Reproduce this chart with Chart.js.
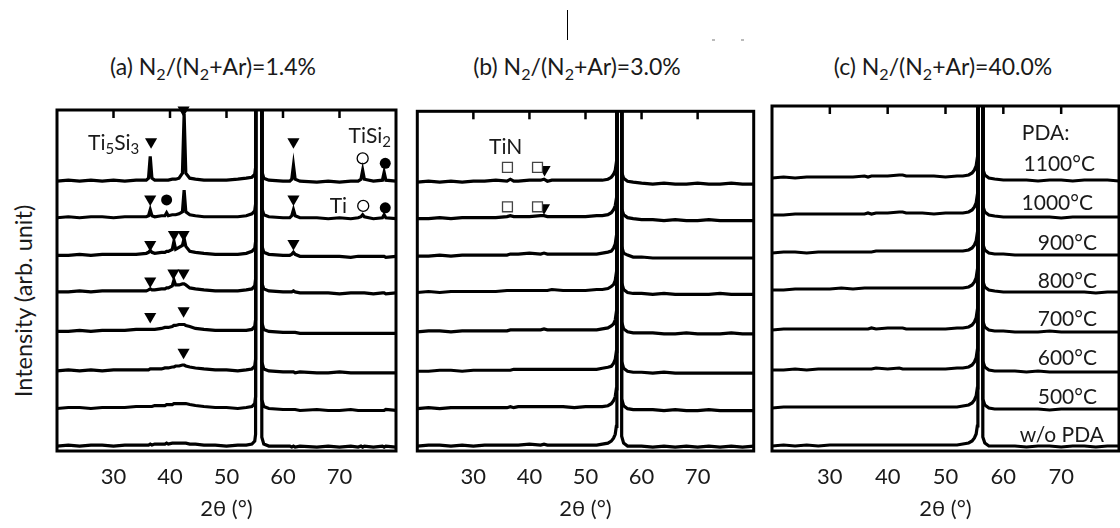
<!DOCTYPE html>
<html>
<head>
<meta charset="utf-8">
<script src="https://cdn.jsdelivr.net/npm/chart.js@4.4.1/dist/chart.umd.min.js"></script>
<style>
  body { margin: 0; background: #fff; width: 1120px; height: 528px; position: relative; overflow: hidden; font-family: Lato, "Noto Sans", sans-serif; color: #1a1a1a; }
  .panel { position: absolute; top: 103px; }
  .ttl { position: absolute; top: 51px; width: 320px; text-align: center; font-size: 23px; line-height: 30px; white-space: nowrap; }
  .ttl sub { font-size: 70%; vertical-align: -0.3em; line-height: 0; }
  #ylab { position: absolute; left: 23px; top: 301px; transform: translate(-50%, -50%) rotate(-90deg); font-size: 23.5px; white-space: nowrap; }
  #mark { position: absolute; left: 567px; top: 10px; width: 1px; height: 30px; background: #000; }
  .dot { position: absolute; top: 39px; width: 3px; height: 2px; background: #bbb; }
</style>
</head>
<body>
<div id="mark"></div>
<div class="dot" style="left:712px"></div>
<div class="dot" style="left:741px"></div>
<div class="ttl" style="left:53px">(a) N<sub>2</sub>/(N<sub>2</sub>+Ar)=1.4%</div>
<div class="ttl" style="left:417px">(b) N<sub>2</sub>/(N<sub>2</sub>+Ar)=3.0%</div>
<div class="ttl" style="left:783px">(c) N<sub>2</sub>/(N<sub>2</sub>+Ar)=40.0%</div>
<div id="ylab">Intensity (arb. unit)</div>
<div class="panel" style="left:50px"><canvas id="pa" width="353" height="430"></canvas></div>
<div class="panel" style="left:409px"><canvas id="pb" width="353" height="430"></canvas></div>
<div class="panel" style="left:769px"><canvas id="pc" width="353" height="430"></canvas></div>
<script>
// 2θ 刻度
const xTicks = [30, 40, 50, 60, 70];
// 各曲線的垂直偏移 (由下而上: w/o PDA, 500 ... 1100°C)
const offsets = [5, 43, 81, 121, 161, 198, 236, 273];

// (a) 1.4%
const thetaA = [20,22,24,26,28,30,32,34,35.8,36.2,36.5,36.8,37.3,38.5,39.1,39.4,39.7,40.4,40.7,41.0,41.6,42.2,42.5,42.8,43.5,44.5,46,48,50,52,53.5,54.5,55,55.15,55.25,56.1,56.25,56.6,57.5,60,61.2,61.55,61.85,62.15,63,66,68,70,72,73.3,73.8,74.1,74.4,76,77.6,77.9,78.2,80];
const a1100 = [0,1,0,1,0,1,0,1, 1,3,25,3,1,1, 1,1,1, 2,2,2,3, 8,68,8,3,2, 1,1,1,2,3,4, 7,14,5000,5000,10,3, 1,0, 0,2,16,2,0, -1,0,-1,0, 0,2,11,2,0, 1,9,1,0];
const a1000 = [0,1,0,1,1,0,1,1, 1,2,8,2,1,2, 2,5,2, 3,3,3,4, 6,28,6,3,2, 1,1,1,1,2,4, 7,14,5000,5000,10,3, 1,0, 0,2,8,2,0, 0,-1,0,-1, 0,1,3,1,-1, 0,3,0,-1];
const a900  = [0,0,1,0,1,1,1,1, 2,3,5,3,2,3, 3,4,4, 6,14,6,8, 10,17,9,4,3, 2,1,1,1,2,4, 7,14,5000,5000,10,3, 1,0, 0,1,3,1,-1, -1,-1,-1,-2, -1,-1,-1,-1,-1, -1,-1,-2,-1];
const a800  = [0,0,1,0,1,1,1,1, 1,2,3,2,2,3, 3,4,4, 6,12,7,7, 8,8,7,4,3, 2,1,1,1,2,3, 6,13,5000,5000,9,3, 1,0, 0,0,1,0,-1, -1,-1,-2,-1, -1,-1,-1,-1,-2, -1,-1,-2,-1];
const a700  = [0,0,1,0,1,1,1,2, 2,2,2,2,2,3, 4,4,4, 5,6,6,7, 7,7,6,5,3, 2,1,1,1,1,2, 5,12,5000,5000,9,2, 0,-1, -1,-1,-1,-1,-2, -2,-2,-2,-2, -2,-2,-2,-2,-2, -2,-2,-2,-2];
const a600  = [0,1,0,1,0,1,1,1, 1,1,2,2,2,2, 3,3,3, 4,4,5,5, 6,6,5,4,3, 2,1,1,0,1,2, 5,12,5000,5000,9,2, 0,-1, -1,-1,-1,-2,-1, -2,-2,-1,-2, -2,-2,-2,-2,-2, -2,-2,-2,-2];
const a500  = [0,1,1,0,1,1,1,2, 2,2,2,2,3,3, 3,4,4, 4,5,5,5, 5,5,5,4,3, 2,1,1,0,1,2, 5,12,5000,5000,9,2, 0,-1, -1,-1,-1,-1,-2, -1,-2,-2,-1, -2,-2,-2,-2,-2, -2,-2,-1,-2];
const aWo   = [0,1,0,1,1,0,1,1, 1,1,2,1,2,2, 2,3,2, 3,3,3,3, 3,3,3,2,2, 1,1,0,1,1,2, 5,12,5000,5000,9,2, 0,0, 0,-1,0,-1,0, -1,0,-1,0, -1,0,-1,0,-1, 0,-1,0,-1];

// (b) 3.0% 與 (c) 40.0% 共用 2θ 取樣點
const thetaB = [20,22,24,26,28,30,32,34,36,36.6,37.2,38,40,42,42.6,43.2,44,46,48,50,52,53,54,54.6,55,55.3,55.5,55.6,56.35,56.45,56.8,57.5,58.5,60,62,64,66,68,70,72,74,76,78,80];
const b1100 = [0,1,0,1,0,1,1,2, 1,3,1, 1,2,2, 3,1,2, 2,2,2,2, 2,3,5,8,12,20,5000, 5000,10,4,1,0, -1,-2,-1,-2,-2,-1,-2,-2,-1,-2,-2];
const b1000 = [0,0,1,0,1,1,1,1, 2,3,2, 2,2,3, 3,2,2, 2,2,2,3, 3,4,6,9,13,20,5000, 5000,10,4,1,0, -1,-1,-2,-1,-2,-2,-1,-2,-2,-2,-2];
const b900  = [0,0,1,0,1,1,1,1, 1,2,2, 2,3,2, 3,2,2, 2,2,2,2, 3,4,5,8,12,20,5000, 5000,10,3,1,-1, -1,-2,-2,-2,-2,-2,-2,-2,-2,-2,-2];
const b800  = [0,1,0,1,1,1,1,1, 2,2,2, 2,2,2, 2,2,3, 2,2,2,3, 3,4,6,8,12,20,5000, 5000,10,3,0,-1, -1,-2,-1,-2,-2,-2,-2,-1,-2,-2,-2];
const b700  = [0,1,1,0,1,1,1,1, 1,2,2, 2,2,2, 3,2,2, 2,2,2,2, 3,4,6,8,12,20,5000, 5000,10,3,0,-1, -1,-1,-2,-2,-1,-2,-2,-2,-1,-2,-2];
const b600  = [0,0,1,1,0,1,1,1, 1,1,2, 2,2,2, 2,2,2, 2,2,2,2, 3,4,5,8,12,20,5000, 5000,10,3,0,-1, -1,-2,-1,-2,-2,-2,-2,-2,-2,-2,-2];
const b500  = [0,1,0,1,1,1,1,1, 1,2,1, 2,2,2, 2,2,2, 2,1,2,2, 2,3,5,8,12,20,5000, 5000,10,3,0,-1, -1,-1,-2,-1,-2,-2,-1,-2,-2,-2,-2];
const bWo   = [0,1,1,0,1,0,1,1, 1,1,1, 1,2,1, 2,1,1, 1,1,1,1, 2,3,5,8,12,20,5000, 5000,10,3,0,0, 0,-1,0,-1,0,-1,0,-1,0,-1,0];

const c1100 = [0,1,0,1,1,1,1,1, 2,1,2, 2,2,3, 3,2,2, 2,2,1,2, 2,3,5,8,12,20,5000, 5000,9,3,0,-1, -2,-2,-2,-3,-2,-2,-3,-2,-2,-2,-3];
const c1000 = [0,0,1,1,1,1,1,1, 1,2,1, 2,2,3, 3,2,2, 2,1,2,2, 2,3,5,8,12,20,5000, 5000,9,3,0,-1, -2,-2,-2,-2,-2,-3,-2,-2,-2,-2,-2];
const c900  = [0,1,1,0,1,1,1,1, 1,1,1, 2,2,2, 2,2,2, 2,2,2,2, 2,3,5,8,12,20,5000, 5000,9,3,0,-1, -1,-2,-2,-2,-2,-2,-2,-2,-2,-2,-2];
const c800  = [0,0,1,1,1,1,2,1, 2,2,2, 2,2,2, 2,2,2, 2,2,2,2, 2,3,5,8,12,20,5000, 5000,9,3,0,-1, -2,-2,-2,-2,-2,-2,-2,-2,-3,-2,-2];
const c700  = [0,1,1,1,1,1,1,1, 1,1,2, 1,2,2, 2,1,1, 1,1,1,2, 2,3,5,8,12,20,5000, 5000,9,3,0,-1, -1,-2,-2,-2,-1,-2,-2,-2,-2,-2,-2];
const c600  = [0,0,1,0,1,1,1,1, 1,1,1, 2,1,2, 1,1,1, 1,1,1,2, 2,3,5,8,12,20,5000, 5000,9,3,0,-1, -1,-1,-2,-1,-2,-2,-2,-2,-2,-2,-2];
const c500  = [0,1,1,1,1,1,1,1, 1,1,1, 1,1,1, 1,1,1, 1,1,1,1, 2,3,5,8,12,20,5000, 5000,9,3,0,-1, -1,-1,-1,-1,-2,-1,-1,-1,-1,-1,-1];
const cWo   = [0,1,0,1,0,1,1,1, 1,1,1, 1,1,1, 1,1,1, 1,1,1,1, 2,3,5,8,12,20,5000, 5000,9,3,0,0, 0,0,-1,0,0,-1,0,0,-1,0,0];

// 相的標記 [2θ, 高度]
const triA = [[36.65,313],[42.4,345],[61.85,313],[36.5,255],[61.85,255],[36.5,209],[40.7,219],[42.4,219],[61.85,210],[36.5,172],[40.6,180],[42.4,180],[36.5,136],[42.4,142],[42.4,100]];
const openCircA = [[74.1,296],[74.2,248]];
const fillCircA = [[78.1,291],[39.4,254],[78.1,246]];
const squareB = [[36.08,288],[41.44,288],[36.08,248],[41.44,248]];
const triB = [[42.7,286],[42.6,247]];

// 圖內文字
const notesA = [
  { x: 25.5, y: 311, text: 'Ti_5Si_3', align: 'left' },
  { x: 79.1, y: 318, text: 'TiSi_2', align: 'right' },
  { x: 71.35, y: 248, text: 'Ti', align: 'right' }
];
const notesB = [{ x: 32.8, y: 309, text: 'TiN', align: 'left' }];
const pdaLabels = ['w/o PDA', '500°C', '600°C', '700°C', '800°C', '900°C', '1000°C', '1100°C'];
const pdaX = [77.4, 76.2, 76.2, 76.2, 76.2, 76.2, 75.5, 75.85];
const pdaY = [16, 54, 93, 132, 170, 208, 248, 287];
const notesC = [{ x: 63.2, y: 318, text: 'PDA:', align: 'left' }]
  .concat(pdaLabels.map((t, i) => ({ x: pdaX[i], y: pdaY[i], text: t, align: 'right' })));

const FONT = 'Lato, "Noto Sans", sans-serif';

// 外框與上方朝內刻度
const framePlugin = {
  id: 'frame',
  afterDatasetsDraw(chart) {
    const { ctx, chartArea: a, scales } = chart;
    ctx.save();
    ctx.strokeStyle = '#000';
    ctx.lineWidth = 3;
    ctx.strokeRect(a.left, a.top, a.right - a.left, a.bottom - a.top);
    ctx.lineWidth = 2.5;
    xTicks.forEach(v => {
      const px = scales.x.getPixelForValue(v);
      ctx.beginPath();
      ctx.moveTo(px, a.top);
      ctx.lineTo(px, a.top + 8);
      ctx.stroke();
    });
    ctx.restore();
  }
};

// 文字 (支援下標 _n)
const notesPlugin = {
  id: 'notes',
  afterDatasetsDraw(chart, args, opts) {
    const { ctx, scales } = chart;
    const size = opts.size || 21;
    const big = size + 'px ' + FONT, small = Math.round(size * 0.7) + 'px ' + FONT;
    ctx.save();
    ctx.fillStyle = '#1a1a1a';
    ctx.textBaseline = 'middle';
    ctx.textAlign = 'left';
    (opts.items || []).forEach(n => {
      const parts = n.text.split(/(_\d)/).filter(s => s).map(s => s[0] === '_' ? { t: s.slice(1), sub: true } : { t: s, sub: false });
      let w = 0;
      parts.forEach(p => { ctx.font = p.sub ? small : big; w += ctx.measureText(p.t).width; });
      const x = scales.x.getPixelForValue(n.x), y = scales.y.getPixelForValue(n.y);
      let cx = n.align === 'right' ? x - w : x;
      parts.forEach(p => {
        ctx.font = p.sub ? small : big;
        ctx.fillText(p.t, cx, p.sub ? y + size * 0.28 : y);
        cx += ctx.measureText(p.t).width;
      });
    });
    ctx.restore();
  }
};

function markerSet(points, style, filled) {
  return {
    data: points.map(p => ({ x: p[0], y: p[1] })),
    showLine: false,
    pointStyle: style,
    rotation: style === 'triangle' ? 180 : 0,
    pointRadius: style === 'triangle' ? 7 : (style === 'rect' ? 7 : 5.5),
    pointBackgroundColor: filled ? '#000' : '#fff',
    pointBorderColor: style === 'rect' ? '#444' : '#000',
    pointBorderWidth: filled ? 0 : 1.3,
    clip: false
  };
}

function makePanel(id, theta, traces, markers, notes) {
  const datasets = traces.map((vals, i) => ({
    data: vals.map((v, j) => ({ x: theta[j], y: v + offsets[i] })),
    showLine: true,
    borderColor: '#000',
    borderWidth: 3.2,
    pointRadius: 0,
    tension: 0
  }));
  new Chart(document.getElementById(id), {
    type: 'scatter',
    data: { datasets: datasets.concat(markers) },
    options: {
      responsive: false,
      animation: false,
      events: [],
      layout: { padding: { left: 3, right: 3, top: 3, bottom: 0 } },
      plugins: { legend: { display: false }, tooltip: { enabled: false }, notes: { items: notes, size: 21 } },
      scales: {
        x: {
          type: 'linear', min: 20, max: 80,
          afterBuildTicks: s => { s.ticks = xTicks.map(v => ({ value: v })); },
          afterFit: s => { s.height = 82; },
          grid: { display: false, drawTicks: false },
          border: { display: false },
          ticks: { padding: 13, color: '#1a1a1a', font: { family: FONT, size: 22 } },
          title: { display: true, text: '2θ (°)', color: '#1a1a1a', font: { family: FONT, size: 22 }, padding: { top: 0, bottom: 11 } }
        },
        y: { min: 0, max: 345, display: false }
      }
    },
    plugins: [framePlugin, notesPlugin]
  });
}

makePanel('pa', thetaA, [aWo, a500, a600, a700, a800, a900, a1000, a1100],
  [markerSet(triA, 'triangle', true), markerSet(openCircA, 'circle', false), markerSet(fillCircA, 'circle', true)], notesA);
makePanel('pb', thetaB, [bWo, b500, b600, b700, b800, b900, b1000, b1100],
  [markerSet(squareB, 'rect', false), markerSet(triB, 'triangle', true)], notesB);
makePanel('pc', thetaB, [cWo, c500, c600, c700, c800, c900, c1000, c1100], [], notesC);
</script>
</body>
</html>
